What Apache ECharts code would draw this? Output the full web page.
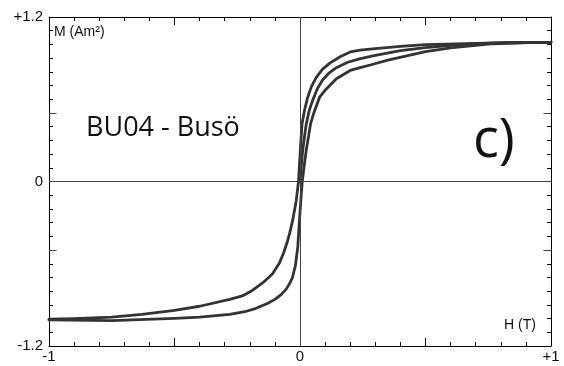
<!DOCTYPE html>
<html>
<head>
<meta charset="utf-8">
<script src="https://cdn.jsdelivr.net/npm/echarts@6/dist/echarts.min.js"></script>
<style>
html,body{margin:0;padding:0;background:#fff;}
#chart{width:564px;height:366px;}
</style>
</head>
<body>
<div id="chart"></div>
<script>
// 下降支 (从 +1 T 到 -1 T)
var descH = [1.0, 0.85, 0.7, 0.5, 0.4, 0.3, 0.24, 0.2, 0.16, 0.12, 0.09, 0.065, 0.045, 0.03, 0.018, 0.008, 0.002, -0.006, -0.015, -0.029, -0.04, -0.049, -0.065, -0.082, -0.11, -0.149, -0.19, -0.23, -0.28, -0.4, -0.5, -0.63, -0.75, -0.9, -1.0];
var descM = [1.015, 1.012, 1.008, 0.998, 0.985, 0.97, 0.958, 0.945, 0.91, 0.865, 0.82, 0.76, 0.69, 0.61, 0.52, 0.42, 0.25, 0, -0.14, -0.28, -0.37, -0.43, -0.52, -0.595, -0.675, -0.74, -0.795, -0.835, -0.86, -0.91, -0.94, -0.97, -0.99, -1.0, -1.005];
// 上升支 (从 -1 T 到 +1 T)
var ascH = [-1.0, -0.75, -0.5, -0.4, -0.28, -0.22, -0.175, -0.13, -0.1, -0.075, -0.055, -0.04, -0.03, -0.018, -0.009, -0.002, 0.004, 0.009, 0.017, 0.025, 0.035, 0.042, 0.055, 0.078, 0.1, 0.145, 0.2, 0.24, 0.28, 0.35, 0.5, 0.6, 0.77, 0.9, 1.0];
var ascM = [-1.01, -1.015, -0.998, -0.99, -0.97, -0.95, -0.925, -0.89, -0.86, -0.825, -0.785, -0.74, -0.70, -0.61, -0.48, -0.28, -0.12, 0, 0.12, 0.23, 0.34, 0.42, 0.5, 0.615, 0.665, 0.75, 0.81, 0.83, 0.85, 0.885, 0.947, 0.975, 1.005, 1.013, 1.015];
// 初始磁化曲线
var initH = [0, 0.005, 0.011, 0.018, 0.025, 0.037, 0.05, 0.07, 0.09, 0.115, 0.145, 0.19, 0.237, 0.3, 0.4, 0.5, 0.65, 0.8, 1.0];
var initM = [0, 0.11, 0.23, 0.33, 0.42, 0.52, 0.59, 0.68, 0.74, 0.79, 0.83, 0.87, 0.895, 0.92, 0.955, 0.977, 1.0, 1.012, 1.015];

var xLabels = {'-1': '-1', '0': '0', '1': '+1'};
var yLabels = {'-1.2': '-1.2', '0': '0', '1.2': '+1.2'};

function pairs(h, m){
    return h.map(function(v, i){ return [v, m[i]]; });
}

var chart = echarts.init(document.getElementById('chart'));

var lineStyle = {color: '#333', width: 2.8, join: 'round', cap: 'round'};
function curve(h, m){
    return {
        type: 'line',
        data: pairs(h, m),
        showSymbol: false,
        smooth: false,
        lineStyle: lineStyle,
        silent: true,
        z: 3
    };
}

var tickFont = {fontFamily: 'Liberation Sans, Arial, sans-serif', fontSize: 15, color: '#111'};

var xBase = {
    type: 'value', min: -1, max: 1, interval: 0.5,
    axisLine: {show: true, onZero: false, lineStyle: {color: '#000', width: 1}},
    axisTick: {show: true, inside: true, length: 8, lineStyle: {color: '#000'}},
    minorTick: {show: true, splitNumber: 5, length: 4, lineStyle: {color: '#000'}},
    splitLine: {show: false}
};
var yBase = {
    type: 'value', min: -1.2, max: 1.2, interval: 0.1,
    axisLine: {show: true, onZero: false, lineStyle: {color: '#000', width: 1}},
    axisTick: {show: true, inside: true, length: 4, lineStyle: {color: '#000'}},
    splitLine: {show: false}
};

// 零线 + y 轴 ±0.5 处长刻度
var refLines = {
    silent: true,
    symbol: 'none',
    label: {show: false},
    lineStyle: {color: '#444', width: 1, type: 'solid'},
    data: [
        {xAxis: 0},
        {yAxis: 0},
        [{coord: [-1, 0.5]}, {coord: [-0.97, 0.5]}],
        [{coord: [-1, -0.5]}, {coord: [-0.97, -0.5]}],
        [{coord: [1, 0.5]}, {coord: [0.97, 0.5]}],
        [{coord: [1, -0.5]}, {coord: [0.97, -0.5]}]
    ]
};

var descSeries = curve(descH, descM);
descSeries.markLine = refLines;

var option = {
    animation: false,
    grid: {left: 49, right: 13, top: 17, bottom: 20},
    xAxis: [
        Object.assign({}, xBase, {
            position: 'bottom',
            axisLabel: Object.assign({
                margin: 3,
                formatter: function(v){ var k = String(Math.round(v * 10) / 10); return xLabels[k] || ''; }
            }, tickFont)
        }),
        Object.assign({}, xBase, {position: 'top', axisLabel: {show: false}})
    ],
    yAxis: [
        Object.assign({}, yBase, {
            position: 'left',
            axisLabel: Object.assign({
                margin: 6,
                formatter: function(v){ var k = String(Math.round(v * 10) / 10); return yLabels[k] || ''; }
            }, tickFont)
        }),
        Object.assign({}, yBase, {position: 'right', axisLabel: {show: false}})
    ],
    graphic: [
        {type: 'text', left: 54, top: 25, style: {text: 'M (Am²)', fontFamily: 'Liberation Sans, Arial, sans-serif', fontSize: 14, fill: '#111'}},
        {type: 'text', left: 504, top: 318, style: {text: 'H (T)', fontFamily: 'Liberation Sans, Arial, sans-serif', fontSize: 14, fill: '#111'}},
        {type: 'text', left: 86, top: 115, style: {text: 'BU04 - Busö', fontFamily: 'Open Sans, sans-serif', fontSize: 27, fill: '#111'}},
        {type: 'text', left: 473, top: 115, style: {text: 'c)', fontFamily: 'Open Sans, sans-serif', fontSize: 54, fill: '#111'}}
    ],
    series: [
        descSeries,
        curve(ascH, ascM),
        curve(initH, initM)
    ]
};

chart.setOption(option);
</script>
</body>
</html>
